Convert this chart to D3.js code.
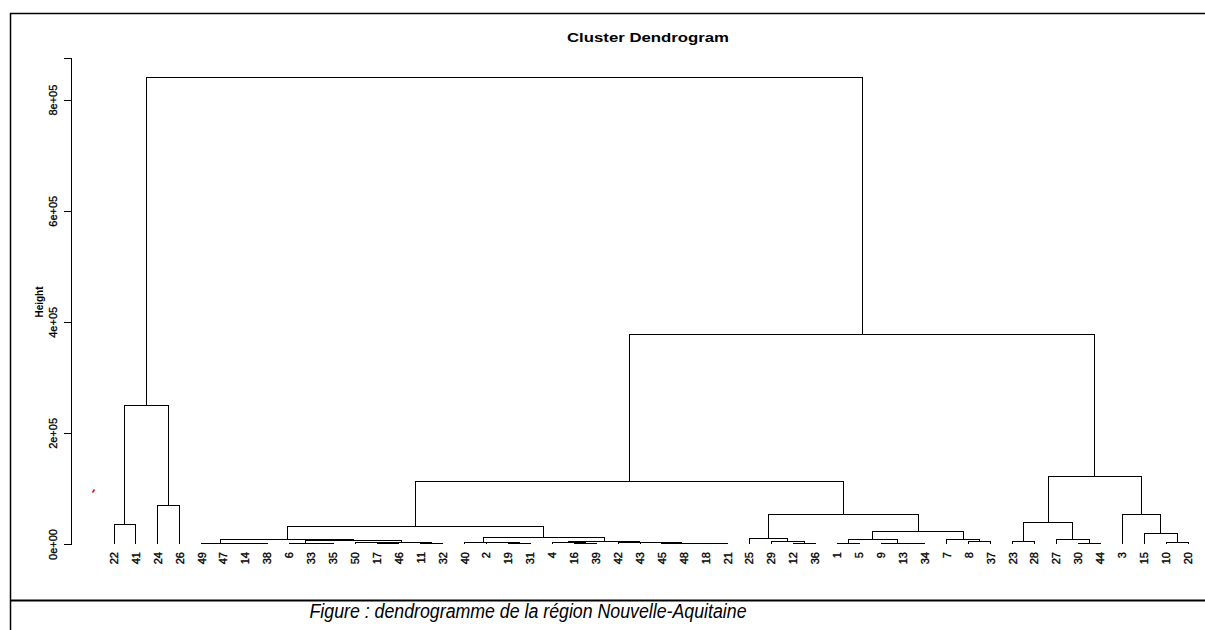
<!DOCTYPE html>
<html>
<head>
<meta charset="utf-8">
<script src="https://cdn.jsdelivr.net/npm/d3@7"></script>
<style>
  body { margin: 0; background: #fff; }
  text { font-family: "Liberation Sans", Arial, sans-serif; }
</style>
</head>
<body>
<div id="chart"></div>
<script>

var svgWidth = 1205;
var svgHeight = 630;

// hclust style merge table: negative = leaf number, positive = earlier merge step (1-based)
var mergePairs = [
  [-22, -41], [-24, -26], [1, 2],
  [-14, -38], [-47, 4], [-49, 5],
  [-33, -35], [-6, 7], [-17, -46], [-50, 9], [-11, -32], [10, 11], [8, 12], [6, 13],
  [-19, -31], [-2, 15], [-40, 16],
  [-16, -39], [-4, 18], [-18, -21], [-48, 20], [-45, 21], [-43, 22], [-42, 23], [19, 24],
  [17, 25], [14, 26],
  [-12, -36], [-29, 28], [-25, 29],
  [-1, -5], [-13, -34], [-9, 32], [31, 33], [-8, -37], [-7, 35], [34, 36], [30, 37],
  [27, 38],
  [-23, -28], [-30, -44], [-27, 41], [40, 42], [-10, -20], [-15, 44], [-3, 45], [43, 46],
  [39, 47], [3, 48]
];

var mergeHeights = [
  35500, 68500, 249000,
  600, 1200, 1800,
  500, 1100, 900, 2300, 400, 3500, 6000, 8500,
  1300, 2000, 3000,
  1000, 2000, 800, 1300, 1700, 2200, 2800, 4000,
  12000, 32000,
  1500, 4000, 10500,
  500, 600, 1500, 9000, 4500, 9000, 23000, 53500,
  112000,
  4000, 1000, 8500, 38000, 2000, 19000, 54000, 121000,
  377000, 840000
];

var yTicks = [0, 200000, 400000, 600000, 800000];
var yTickLabels = ["0e+00", "2e+05", "4e+05", "6e+05", "8e+05"];

var titleText = "Cluster Dendrogram";
var yAxisTitle = "Height";
var captionText = "Figure : dendrogramme de la région Nouvelle-Aquitaine";

// build nested tree from the merge table
function buildNode(ref) {
  if (ref < 0) return { name: String(-ref), h: 0 };
  var pair = mergePairs[ref - 1];
  return { h: mergeHeights[ref - 1], children: [buildNode(pair[0]), buildNode(pair[1])] };
}
var root = d3.hierarchy(buildNode(mergePairs.length));

var svg = d3.select("#chart")
  .append("svg")
  .attr("width", svgWidth)
  .attr("height", svgHeight)
  .style("background", "#fff");

d3.cluster()
  .size([1, 1])
  .separation(function() { return 1; })(root);

// first and last leaf go to the plot edges
var x = d3.scaleLinear()
  .domain(d3.extent(root.leaves(), function(d) { return d.x; }))
  .range([114, 1188]);

var y = d3.scaleLinear()
  .domain([0, 875000])
  .range([544, 58]);

var plot = svg.append("g");

// elbow links
plot.selectAll("path.link")
  .data(root.links())
  .enter()
  .append("path")
  .attr("class", "link")
  .attr("d", function(d) {
    return "M" + x(d.target.x) + "," + y(d.target.data.h) +
      "V" + y(d.source.data.h) + "H" + x(d.source.x);
  })
  .attr("fill", "none")
  .attr("stroke", "#000")
  .attr("stroke-width", 1)
  .attr("shape-rendering", "crispEdges");

// leaf labels
plot.selectAll("text.leaf")
  .data(root.leaves())
  .enter()
  .append("text")
  .attr("class", "leaf")
  .attr("transform", function(d) { return "translate(" + x(d.x) + ",552) rotate(-90)"; })
  .attr("text-anchor", "end")
  .attr("dy", "0.35em")
  .attr("font-size", "11px")
  .attr("fill", "#000")
  .attr("stroke", "#000")
  .attr("stroke-width", 0.35)
  .text(function(d) { return d.data.name; });

// y axis
var leftAxis = d3.axisLeft(y)
  .tickValues(yTicks)
  .tickSizeOuter(0)
  .tickSize(7)
  .tickFormat(function(d, i) { return yTickLabels[i]; });

var axisG = svg.append("g")
  .attr("transform", "translate(71,0)")
  .call(leftAxis);

axisG.selectAll("path, line")
  .attr("stroke", "#000")
  .attr("shape-rendering", "crispEdges");

axisG.selectAll(".tick text")
  .attr("x", null)
  .attr("dy", null)
  .attr("transform", "translate(-18,0) rotate(-90)")
  .attr("text-anchor", "middle")
  .attr("dominant-baseline", "central")
  .attr("font-size", "11px")
  .attr("font-family", "Liberation Sans, Arial, sans-serif")
  .attr("fill", "#000")
  .attr("stroke", "#000")
  .attr("stroke-width", 0.3);

svg.append("text")
  .attr("transform", "translate(39,302) rotate(-90)")
  .attr("text-anchor", "middle")
  .attr("dominant-baseline", "central")
  .attr("font-size", "10px")
  .attr("font-weight", "bold")
  .text(yAxisTitle);

svg.append("text")
  .attr("x", 648)
  .attr("y", 42)
  .attr("text-anchor", "middle")
  .attr("font-size", "12px")
  .attr("font-weight", "bold")
  .attr("textLength", 162)
  .attr("lengthAdjust", "spacingAndGlyphs")
  .text(titleText);

// stray red mark from the source picture
svg.append("line")
  .attr("x1", 92.5).attr("y1", 492.5).attr("x2", 94.5).attr("y2", 489.5)
  .attr("stroke", "#e00")
  .attr("stroke-width", 1.5);

// frame of the figure
svg.append("line")
  .attr("x1", 10.5).attr("x2", 10.5).attr("y1", 13).attr("y2", 630)
  .attr("stroke", "#000").attr("stroke-width", 1.5);
svg.append("line")
  .attr("x1", 10).attr("x2", 1205).attr("y1", 13.5).attr("y2", 13.5)
  .attr("stroke", "#000").attr("stroke-width", 1.5);
svg.append("line")
  .attr("x1", 10).attr("x2", 1205).attr("y1", 600.5).attr("y2", 600.5)
  .attr("stroke", "#000").attr("stroke-width", 2);

svg.append("text")
  .attr("x", 528)
  .attr("y", 618)
  .attr("text-anchor", "middle")
  .attr("font-size", "20px")
  .attr("font-style", "italic")
  .attr("textLength", 437)
  .attr("lengthAdjust", "spacingAndGlyphs")
  .text(captionText);

</script>
</body>
</html>
